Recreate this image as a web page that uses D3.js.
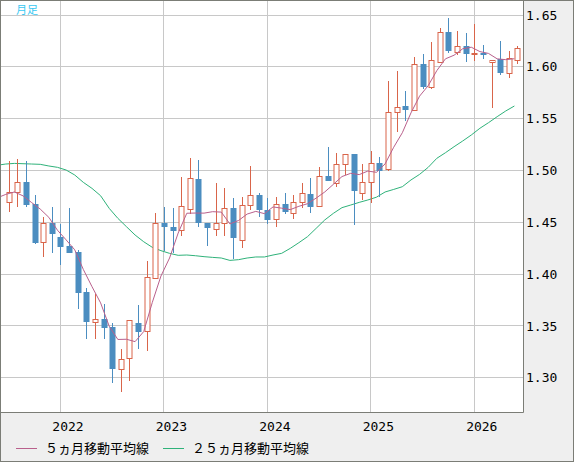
<!DOCTYPE html>
<html>
<head>
<meta charset="utf-8">
<script src="https://cdn.jsdelivr.net/npm/d3@7"></script>
<style>
  body { margin: 0; background: #efefef; }
  svg { display: block; }
</style>
</head>
<body>
<div id="chart"></div>
<script>
// monthly candles, Jul 2021 .. Jun 2026
const months = ["2021-07","2021-08","2021-09","2021-10","2021-11","2021-12",
  "2022-01","2022-02","2022-03","2022-04","2022-05","2022-06","2022-07","2022-08","2022-09","2022-10","2022-11","2022-12",
  "2023-01","2023-02","2023-03","2023-04","2023-05","2023-06","2023-07","2023-08","2023-09","2023-10","2023-11","2023-12",
  "2024-01","2024-02","2024-03","2024-04","2024-05","2024-06","2024-07","2024-08","2024-09","2024-10","2024-11","2024-12",
  "2025-01","2025-02","2025-03","2025-04","2025-05","2025-06","2025-07","2025-08","2025-09","2025-10","2025-11","2025-12",
  "2026-01","2026-02","2026-03","2026-04","2026-05","2026-06"];

const open = [1.4692,1.4789,1.4885,1.4680,1.4306,1.4489,1.4360,1.4271,1.4213,1.3823,1.3540,1.3563,1.3486,1.3081,1.3187,1.3530,1.3451,1.3966,
  1.4489,1.4451,1.4422,1.4625,1.4917,1.4496,1.4431,1.4489,1.4634,1.4329,1.4663,1.4760,1.4618,1.4528,1.4673,1.4586,1.4692,1.4772,
  1.4660,1.4943,1.4882,1.5059,1.5158,1.4779,1.4885,1.5068,1.5014,1.5561,1.5622,1.5584,1.6024,1.5809,1.6050,1.6333,1.6146,1.6198,
  1.6121,1.6132,1.6050,1.6072,1.5937,1.6069];
const high = [1.5094,1.5110,1.5094,1.4763,1.4547,1.4647,1.4483,1.4637,1.4232,1.3862,1.3807,1.3711,1.3524,1.3277,1.3560,1.3702,1.4126,1.4586,
  1.4644,1.4634,1.4933,1.5117,1.5101,1.4496,1.4882,1.4830,1.4734,1.4743,1.5043,1.4779,1.4731,1.4747,1.4782,1.4760,1.4879,1.4930,
  1.5033,1.5226,1.5165,1.5162,1.5158,1.5062,1.5187,1.5126,1.5863,1.5960,1.5770,1.6092,1.6124,1.6237,1.6372,1.6468,1.6346,1.6323,
  1.6413,1.6211,1.6070,1.6253,1.6153,1.6201];
const low = [1.4602,1.4650,1.4644,1.4287,1.4161,1.4206,1.4087,1.4200,1.3663,1.3373,1.3373,1.3373,1.2952,1.2865,1.2971,1.3280,1.3261,1.3950,
  1.4226,1.4200,1.4367,1.4579,1.4457,1.4271,1.4367,1.4367,1.4148,1.4255,1.4618,1.4547,1.4483,1.4457,1.4583,1.4531,1.4641,1.4592,
  1.4650,1.4898,1.4843,1.4956,1.4473,1.4715,1.4682,1.4747,1.4999,1.5375,1.5481,1.5575,1.5783,1.5789,1.6040,1.6130,1.6114,1.6050,
  1.6056,1.6072,1.5606,1.5925,1.5896,1.6031];
const close = [1.4789,1.4885,1.4670,1.4303,1.4489,1.4390,1.4264,1.4206,1.3820,1.3540,1.3563,1.3483,1.3081,1.3177,1.3553,1.3444,1.3969,1.4489,
  1.4451,1.4419,1.4653,1.4924,1.4496,1.4448,1.4489,1.4634,1.4351,1.4663,1.4760,1.4618,1.4525,1.4673,1.4602,1.4692,1.4779,1.4650,
  1.4943,1.4898,1.5059,1.5155,1.4805,1.4885,1.5068,1.4998,1.5561,1.5609,1.5584,1.6024,1.5809,1.6063,1.6333,1.6156,1.6198,1.6121,
  1.6137,1.6124,1.6066,1.5937,1.6082,1.6179];

// moving averages, first value is Jun 2021 (just left of the plot)
const ma5 = [1.4735,1.4769,1.4792,1.4755,1.4690,1.4627,1.4547,1.4423,1.4330,1.4234,1.4044,1.3879,1.3722,1.3497,1.3369,1.3371,1.3348,1.3445,1.3727,
  1.3981,1.4155,1.4396,1.4587,1.4589,1.4588,1.4602,1.4598,1.4484,1.4517,1.4579,1.4605,1.4583,1.4648,1.4636,1.4622,1.4654,1.4679,
  1.4733,1.4792,1.4866,1.4941,1.4972,1.4960,1.4994,1.4982,1.5063,1.5224,1.5364,1.5555,1.5717,1.5818,1.5963,1.6077,1.6112,1.6174,
  1.6189,1.6147,1.6129,1.6077,1.6069,1.6078];
const ma25 = [1.5050,1.5062,1.5068,1.5065,1.5062,1.5059,1.5043,1.5030,1.5004,1.4956,1.4885,1.4827,1.4756,1.4634,1.4538,1.4457,1.4377,1.4312,1.4258,
  1.4226,1.4200,1.4181,1.4184,1.4177,1.4168,1.4161,1.4155,1.4132,1.4139,1.4155,1.4165,1.4165,1.4184,1.4200,1.4248,1.4303,1.4361,
  1.4441,1.4522,1.4586,1.4641,1.4666,1.4692,1.4715,1.4742,1.4792,1.4817,1.4843,1.4908,1.4962,1.5030,1.5117,1.5171,1.5229,1.5284,
  1.5342,1.5407,1.5461,1.5519,1.5574,1.5622];

const yTicks = [1.30, 1.35, 1.40, 1.45, 1.50, 1.55, 1.60, 1.65];
const yearStarts = ["2022-01","2023-01","2024-01","2025-01","2026-01"];
const yearLabels = ["2022","2023","2024","2025","2026"];

const W = 574, H = 462;
const pr = 523, pb = 412;
const upColor = "#d9654a", downColor = "#4b8dc0";
const numFont = "'DejaVu Sans Mono', monospace";
const jpFont = "'Noto Sans CJK JP', sans-serif";

const svg = d3.select("#chart").append("svg")
  .attr("width", W)
  .attr("height", H);

// background + outer frame
svg.append("rect")
  .attr("x", 0.5).attr("y", 0.5)
  .attr("width", W - 1).attr("height", H - 1)
  .attr("fill", "#efefef")
  .attr("stroke", "#7b7d76");

svg.append("rect")
  .attr("x", 1).attr("y", 1)
  .attr("width", pr - 1).attr("height", pb - 1)
  .attr("fill", "#fff");

svg.append("clipPath").attr("id", "plotClip")
  .append("rect").attr("x", 1).attr("y", 1).attr("width", pr - 1).attr("height", pb - 1);

const x = d3.scalePoint().domain(months).range([8.77, 517.4]);
const step = x.step();
const y = d3.scaleLinear().domain([1.30, 1.65]).range([377.7, 15]);

const plot = svg.append("g").attr("clip-path", "url(#plotClip)");

// grid
plot.selectAll(".hgrid").data(yTicks).join("line")
  .attr("x1", 1).attr("x2", pr)
  .attr("y1", d => Math.floor(y(d)) + 0.5)
  .attr("y2", d => Math.floor(y(d)) + 0.5)
  .attr("stroke", "#c8c8c8");

plot.selectAll(".vgrid").data(yearStarts).join("line")
  .attr("x1", d => Math.floor(x(d)) + 0.5)
  .attr("x2", d => Math.floor(x(d)) + 0.5)
  .attr("y1", 1).attr("y2", pb)
  .attr("stroke", "#c8c8c8");

// moving averages (drawn a few px left of the candle centre, like the source)
const maX = i => (i === 0 ? x(months[0]) - step : x(months[i - 1])) - 3;

const line25 = d3.line().x((d, i) => maX(i)).y(d => y(d));
plot.append("path")
  .datum(ma25)
  .attr("d", line25)
  .attr("fill", "none")
  .attr("stroke", "#2fb27a")
  .attr("stroke-width", 1);

// candles
const candles = plot.selectAll(".candle").data(months).join("g");

candles.append("line")
  .attr("x1", d => Math.round(x(d)) + 0.5)
  .attr("x2", d => Math.round(x(d)) + 0.5)
  .attr("y1", (d, i) => Math.round(y(high[i])))
  .attr("y2", (d, i) => Math.round(y(low[i])))
  .attr("stroke", (d, i) => close[i] >= open[i] ? upColor : downColor);

candles.append("rect")
  .attr("x", (d, i) => close[i] >= open[i] ? Math.round(x(d)) - 2 : Math.round(x(d)) - 2.5)
  .attr("width", (d, i) => close[i] >= open[i] ? 5 : 6)
  .attr("y", (d, i) => {
    const top = Math.round(y(Math.max(open[i], close[i])));
    return close[i] >= open[i] ? top + 0.5 : top;
  })
  .attr("height", (d, i) => {
    const h = Math.round(y(Math.min(open[i], close[i]))) - Math.round(y(Math.max(open[i], close[i])));
    return close[i] >= open[i] ? Math.max(h, 1) : Math.max(h, 2);
  })
  .attr("fill", (d, i) => close[i] >= open[i] ? "#fff" : downColor)
  .attr("stroke", (d, i) => close[i] >= open[i] ? upColor : "none")
  .attr("stroke-width", 1);

const line5 = d3.line().x((d, i) => maX(i)).y(d => y(d));
plot.append("path")
  .datum(ma5)
  .attr("d", line5)
  .attr("fill", "none")
  .attr("stroke", "#b9608c")
  .attr("stroke-width", 1);

// plot frame (right and bottom)
svg.append("path")
  .attr("d", `M${pr + 0.5},0 V${pb + 0.5} H0`)
  .attr("fill", "none")
  .attr("stroke", "#7b7d76");

// price labels on the right
svg.selectAll(".ylab").data(yTicks).join("text")
  .attr("x", 526)
  .attr("y", d => y(d))
  .attr("dy", "0.36em")
  .attr("font-family", numFont)
  .attr("font-size", 13)
  .attr("fill", "#000")
  .text(d => d.toFixed(2));

// year labels
svg.selectAll(".xlab").data(yearStarts).join("text")
  .attr("x", d => x(d) + 7.5)
  .attr("y", 431)
  .attr("text-anchor", "middle")
  .attr("font-family", numFont)
  .attr("font-size", 13)
  .attr("fill", "#000")
  .text((d, i) => yearLabels[i]);

// 月足 label
svg.append("text")
  .attr("x", 16)
  .attr("y", 14)
  .attr("font-family", jpFont)
  .attr("font-size", 11)
  .attr("fill", "#38c8f2")
  .text("月足");

// legend
const legend = [
  { label: "５ヵ月移動平均線", color: "#b9608c", x: 16 },
  { label: "２５ヵ月移動平均線", color: "#2fb27a", x: 163 }
];
legend.forEach(l => {
  svg.append("line")
    .attr("x1", l.x).attr("x2", l.x + 21)
    .attr("y1", 448.5).attr("y2", 448.5)
    .attr("stroke", l.color);
  svg.append("text")
    .attr("x", l.x + 29)
    .attr("y", 453)
    .attr("font-family", jpFont)
    .attr("font-size", 13)
    .attr("fill", "#000")
    .text(l.label);
});
</script>
</body>
</html>
